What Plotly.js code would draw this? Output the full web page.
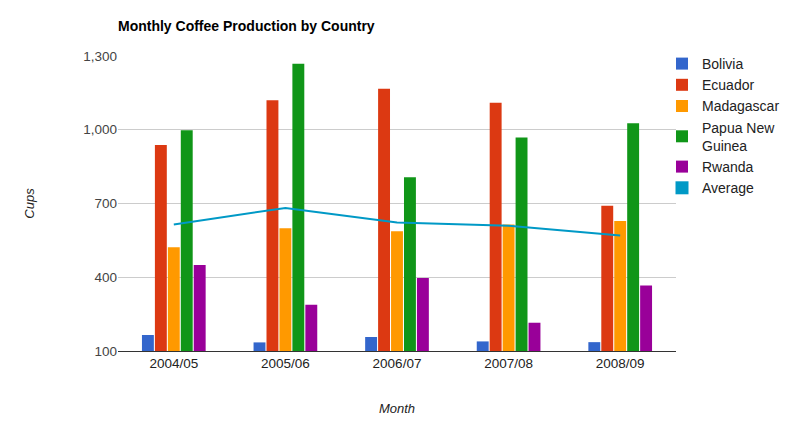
<!DOCTYPE html>
<html>
<head>
<meta charset="utf-8">
<script src="https://cdn.plot.ly/plotly-3.0.1.min.js"></script>
<style>
  body { margin: 0; background: #fff; }
  #chart { width: 800px; height: 426px; }
</style>
</head>
<body>
<div id="chart"></div>
<script>
// ------------------------------------------------------------
// data
// ------------------------------------------------------------
const months = ['2004/05', '2005/06', '2006/07', '2007/08', '2008/09']
const bolivia = [165, 135, 157, 139, 136]
const ecuador = [938, 1120, 1167, 1110, 691]
const madagascar = [522, 599, 587, 615, 629]
const papuaNewGuinea = [998, 1268, 807, 968, 1026]
const rwanda = [450, 288, 397, 215, 366]
const average = [614.6, 682, 623, 609.4, 569.6]

const countryNames = ['Bolivia', 'Ecuador', 'Madagascar', 'Papua New<br>Guinea', 'Rwanda']
const countrySeries = [bolivia, ecuador, madagascar, papuaNewGuinea, rwanda]
const colors = ['#3366cc', '#dc3912', '#ff9900', '#109618', '#990099', '#0099c6']

// ------------------------------------------------------------
// traces
// ------------------------------------------------------------
const traces = countrySeries.map(function (values, i) {
    return {
        x: months,
        y: values,
        type: 'bar',
        name: countryNames[i],
        marker: { color: colors[i] },
        hoverinfo: 'x+y+name'
    }
})

// 平均の折れ線
traces.push({
    x: months,
    y: average,
    type: 'scatter',
    mode: 'lines',
    name: 'Average',
    line: { color: colors[5], width: 2 },
    showlegend: false
})

// 凡例用（四角のマーカーだけ）
traces.push({
    x: [null],
    y: [null],
    type: 'scatter',
    mode: 'markers',
    name: 'Average',
    marker: { color: colors[5], symbol: 'square', size: 13 },
    hoverinfo: 'skip'
})

// ------------------------------------------------------------
// layout
// ------------------------------------------------------------
const plotLeft = 118
const plotRight = 676

const layout = {
    width: 800,
    height: 426,
    margin: { l: plotLeft, r: 800 - plotRight, t: 56, b: 75 },
    paper_bgcolor: '#fff',
    plot_bgcolor: '#fff',
    font: { family: 'Liberation Sans, Arial, sans-serif', size: 13, color: '#444' },
    title: {
        text: '<b>Monthly Coffee Production by Country</b>',
        font: { size: 14, color: '#000' },
        x: plotLeft / 800,
        xanchor: 'left',
        xref: 'container',
        y: 1 - 26 / 426,
        yanchor: 'middle'
    },
    barmode: 'group',
    bargap: 0.42,
    bargroupgap: 0.08,
    xaxis: {
        type: 'category',
        showgrid: false,
        ticks: '',
        showline: true,
        linecolor: '#333',
        linewidth: 1,
        tickfont: { size: 13.5, color: '#222' },
        title: { text: '<i>Month</i>', font: { size: 13, color: '#222' }, standoff: 33 }
    },
    yaxis: {
        range: [100, 1300],
        tickvals: [100, 400, 700, 1000, 1300],
        ticktext: ['100', '400', '700', '1,000', '1,300'],
        showgrid: true,
        gridcolor: '#cccccc',
        zeroline: false,
        ticks: '',
        tickfont: { size: 13.5, color: '#444' },
        title: { text: '<i>Cups</i>', font: { size: 13, color: '#222' }, standoff: 45 }
    },
    legend: {
        x: (662 - plotLeft) / (plotRight - plotLeft),
        xref: 'paper',
        xanchor: 'left',
        y: 1 + 8 / 295,
        yref: 'paper',
        yanchor: 'top',
        font: { size: 14, color: '#222' },
        itemwidth: 30,
        tracegroupgap: 0,
        bgcolor: 'rgba(0,0,0,0)'
    },
    showlegend: true
}

Plotly.newPlot('chart', traces, layout, { displayModeBar: false, staticPlot: true })
</script>
</body>
</html>
